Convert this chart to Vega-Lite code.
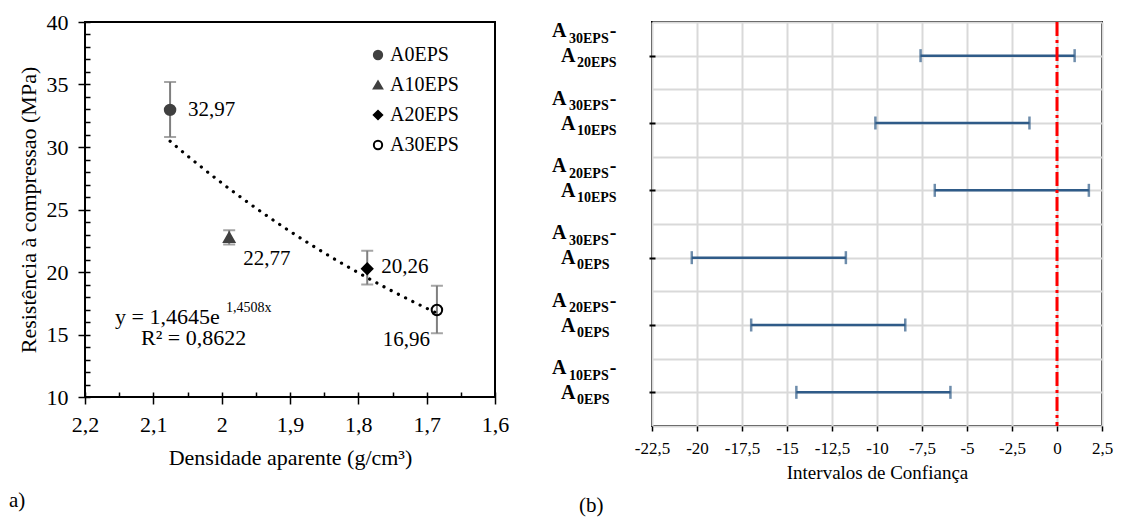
{
  "$schema": "https://vega.github.io/schema/vega-lite/v6.json",
  "background": "white",
  "padding": {"left": 8, "top": 10, "right": 0, "bottom": 0},
  "spacing": 40,
  "config": {
    "font": "Liberation Serif",
    "view": {"stroke": "black", "strokeWidth": 2},
    "axis": {"labelFont": "Liberation Serif", "titleFont": "Liberation Serif", "labelColor": "black", "titleColor": "black", "tickColor": "black", "domain": false, "titleFontWeight": "normal", "labelOverlap": false, "labelFlush": false},
    "title": {"font": "Liberation Serif", "fontWeight": "normal", "color": "black"}
  },
  "hconcat": [
    {
      "width": 410,
      "height": 375,
      "title": {"text": "a)", "orient": "bottom", "anchor": "start", "frame": "bounds", "fontSize": 21, "offset": 22, "dx": -8},
      "data": {"values": [
        {"serie": "A0EPS", "dens": 2.0755, "res": 32.97, "lo": 30.8, "hi": 35.2, "lab": "32,97"},
        {"serie": "A10EPS", "dens": 1.989, "res": 22.77, "lo": 22.2, "hi": 23.34, "lab": "22,77"},
        {"serie": "A20EPS", "dens": 1.787, "res": 20.26, "lo": 19.0, "hi": 21.7, "lab": "20,26"},
        {"serie": "A30EPS", "dens": 1.685, "res": 16.96, "lo": 15.1, "hi": 18.9, "lab": "16,96"}
      ]},
      "resolve": {"axis": {"x": "independent", "y": "independent"}},
      "layer": [
        {
          "mark": {"type": "rule", "color": "#7f7f7f", "strokeWidth": 2},
          "encoding": {
            "x": {"field": "dens", "type": "quantitative", "scale": {"domain": [1.6, 2.2], "reverse": true, "nice": false, "zero": false},
              "axis": {"orient": "bottom", "values": [1.6, 1.7, 1.8, 1.9, 2.0, 2.1, 2.2], "tickSize": 7, "tickWidth": 1.5, "labelFontSize": 22, "labelPadding": 10, "labelExpr": "replace(toString(datum.value), '.', ',')", "title": "Densidade aparente (g/cm³)", "titleFontSize": 22, "titlePadding": 12, "grid": false}},
            "y": {"field": "lo", "type": "quantitative", "scale": {"domain": [10, 40], "nice": false, "zero": false},
              "axis": {"orient": "left", "values": [10, 15, 20, 25, 30, 35, 40], "tickSize": 7, "tickWidth": 1.5, "labelFontSize": 22, "labelPadding": 10, "title": "Resistência à compressao (MPa)", "titleFontSize": 22, "titlePadding": 6, "grid": false}},
            "y2": {"field": "hi"}
          }
        },
        {
          "mark": {"type": "tick", "orient": "horizontal", "color": "#7f7f7f", "size": 12, "thickness": 2},
          "encoding": {
            "x": {"field": "dens", "type": "quantitative", "scale": {"domain": [1.6, 2.2], "reverse": true, "nice": false, "zero": false},
              "axis": {"orient": "bottom", "values": [1.6, 1.65, 1.7, 1.75, 1.8, 1.85, 1.9, 1.95, 2.0, 2.05, 2.1, 2.15, 2.2], "tickSize": -5, "tickWidth": 1.5, "labels": false, "title": null, "grid": false}},
            "y": {"field": "hi", "type": "quantitative", "scale": {"domain": [10, 40], "nice": false, "zero": false},
              "axis": {"orient": "left", "values": [10, 11, 12, 13, 14, 15, 16, 17, 18, 19, 20, 21, 22, 23, 24, 25, 26, 27, 28, 29, 30, 31, 32, 33, 34, 35, 36, 37, 38, 39, 40], "tickSize": -5, "tickWidth": 1.5, "labels": false, "title": null, "grid": false}}
          }
        },
        {
          "mark": {"type": "tick", "orient": "horizontal", "color": "#7f7f7f", "size": 12, "thickness": 2},
          "encoding": {
            "x": {"field": "dens", "type": "quantitative", "axis": null},
            "y": {"field": "lo", "type": "quantitative", "axis": null}
          }
        },
        {
          "mark": {"type": "point", "size": 110, "strokeWidth": 2, "opacity": 1},
          "encoding": {
            "x": {"field": "dens", "type": "quantitative", "axis": null},
            "y": {"field": "res", "type": "quantitative", "axis": null},
            "shape": {"field": "serie", "type": "nominal", "scale": {"domain": ["A0EPS", "A10EPS", "A20EPS", "A30EPS"], "range": ["circle", "triangle-up", "diamond", "circle"]},
              "legend": {"orient": "none", "legendX": 283, "legendY": 23, "title": null, "padding": 0, "labelFontSize": 20, "labelFont": "Liberation Serif", "labelColor": "black", "symbolSize": 70, "symbolStrokeWidth": 2, "rowPadding": 10, "labelOffset": 2}},
            "fill": {"field": "serie", "type": "nominal", "scale": {"domain": ["A0EPS", "A10EPS", "A20EPS", "A30EPS"], "range": ["#404040", "#404040", "#000000", "rgba(0,0,0,0)"]}},
            "stroke": {"field": "serie", "type": "nominal", "scale": {"domain": ["A0EPS", "A10EPS", "A20EPS", "A30EPS"], "range": ["#404040", "#404040", "#000000", "#000000"]}}
          }
        },
        {
          "transform": [{"regression": "res", "on": "dens", "method": "exp", "extent": [1.685, 2.0755]}],
          "mark": {"type": "line", "color": "black", "strokeWidth": 3.2, "strokeDash": [0.1, 8], "strokeCap": "round"},
          "encoding": {
            "x": {"field": "dens", "type": "quantitative", "axis": null},
            "y": {"field": "res", "type": "quantitative", "axis": null}
          }
        },
        {
          "transform": [{"filter": "datum.serie == 'A0EPS'"}],
          "mark": {"type": "text", "align": "left", "baseline": "middle", "dx": 18, "dy": 0, "fontSize": 21, "font": "Liberation Serif", "color": "black"},
          "encoding": {"x": {"field": "dens", "type": "quantitative", "axis": null}, "y": {"field": "res", "type": "quantitative", "axis": null}, "text": {"field": "lab"}}
        },
        {
          "transform": [{"filter": "datum.serie == 'A10EPS'"}],
          "mark": {"type": "text", "align": "left", "baseline": "middle", "dx": 14, "dy": 22, "fontSize": 21, "font": "Liberation Serif", "color": "black"},
          "encoding": {"x": {"field": "dens", "type": "quantitative", "axis": null}, "y": {"field": "res", "type": "quantitative", "axis": null}, "text": {"field": "lab"}}
        },
        {
          "transform": [{"filter": "datum.serie == 'A20EPS'"}],
          "mark": {"type": "text", "align": "left", "baseline": "middle", "dx": 14, "dy": -2, "fontSize": 21, "font": "Liberation Serif", "color": "black"},
          "encoding": {"x": {"field": "dens", "type": "quantitative", "axis": null}, "y": {"field": "res", "type": "quantitative", "axis": null}, "text": {"field": "lab"}}
        },
        {
          "transform": [{"filter": "datum.serie == 'A30EPS'"}],
          "mark": {"type": "text", "align": "right", "baseline": "middle", "dx": -7, "dy": 30, "fontSize": 21, "font": "Liberation Serif", "color": "black"},
          "encoding": {"x": {"field": "dens", "type": "quantitative", "axis": null}, "y": {"field": "res", "type": "quantitative", "axis": null}, "text": {"field": "lab"}}
        },
        {
          "data": {"values": [{}]},
          "mark": {"type": "text", "align": "left", "baseline": "alphabetic", "fontSize": 22, "font": "Liberation Serif", "color": "black", "text": "y = 1,4645e"},
          "encoding": {"x": {"datum": 2.156, "type": "quantitative", "axis": null}, "y": {"datum": 15.84, "type": "quantitative", "axis": null}}
        },
        {
          "data": {"values": [{}]},
          "mark": {"type": "text", "align": "left", "baseline": "alphabetic", "fontSize": 14, "font": "Liberation Serif", "color": "black", "text": "1,4508x"},
          "encoding": {"x": {"datum": 1.9936, "type": "quantitative", "axis": null}, "y": {"datum": 16.8, "type": "quantitative", "axis": null}}
        },
        {
          "data": {"values": [{}]},
          "mark": {"type": "text", "align": "left", "baseline": "alphabetic", "fontSize": 22, "font": "Liberation Serif", "color": "black", "text": "R² = 0,8622"},
          "encoding": {"x": {"datum": 2.118, "type": "quantitative", "axis": null}, "y": {"datum": 14.16, "type": "quantitative", "axis": null}}
        }
      ]
    },
    {
      "width": 450,
      "height": 404,
      "title": {"text": "(b)", "orient": "bottom", "anchor": "start", "frame": "bounds", "fontSize": 21, "offset": 13, "dx": 27},
      "data": {"values": [
        {"r": 1, "s1": "30EPS", "s2": "20EPS", "lo": -7.58, "hi": 0.98},
        {"r": 2, "s1": "30EPS", "s2": "10EPS", "lo": -10.09, "hi": -1.53},
        {"r": 3, "s1": "20EPS", "s2": "10EPS", "lo": -6.79, "hi": 1.77},
        {"r": 4, "s1": "30EPS", "s2": "0EPS", "lo": -20.29, "hi": -11.73},
        {"r": 5, "s1": "20EPS", "s2": "0EPS", "lo": -16.99, "hi": -8.43},
        {"r": 6, "s1": "10EPS", "s2": "0EPS", "lo": -14.48, "hi": -5.92}
      ]},
      "resolve": {"axis": {"x": "independent", "y": "independent"}},
      "layer": [
        {
          "mark": {"type": "rule", "color": "#2f5b88", "strokeWidth": 2.5},
          "encoding": {
            "x": {"field": "lo", "type": "quantitative", "scale": {"domain": [-22.5, 2.5], "nice": false, "zero": false},
              "axis": {"orient": "bottom", "values": [-22.5, -20, -17.5, -15, -12.5, -10, -7.5, -5, -2.5, 0, 2.5], "grid": true, "gridColor": "#d9d9d9", "gridWidth": 2, "tickSize": 5, "tickWidth": 1.5, "labelFontSize": 17, "labelPadding": 9, "labelExpr": "replace(toString(datum.value), '.', ',')", "title": "Intervalos de Confiança", "titleFontSize": 19, "titlePadding": 7}},
            "x2": {"field": "hi"},
            "y": {"field": "r", "type": "quantitative", "scale": {"domain": [0.5, 6.5], "reverse": true, "nice": false, "zero": false},
              "axis": {"orient": "left", "values": [0.5, 1, 1.5, 2, 2.5, 3, 3.5, 4, 4.5, 5, 5.5, 6, 6.5], "grid": true, "gridColor": "#d9d9d9", "gridWidth": 2, "ticks": false, "labels": false, "title": null}}
          }
        },
        {
          "mark": {"type": "tick", "orient": "vertical", "color": "#2f5b88", "size": 13, "thickness": 2.5},
          "encoding": {
            "x": {"field": "lo", "type": "quantitative", "scale": {"domain": [-22.5, 2.5], "nice": false, "zero": false}, "axis": null},
            "y": {"field": "r", "type": "quantitative", "scale": {"domain": [0.5, 6.5], "reverse": true, "nice": false, "zero": false},
              "axis": {"orient": "left", "values": [1, 2, 3, 4, 5, 6], "grid": false, "ticks": true, "tickSize": 6, "tickWidth": 2, "offset": -3, "labels": false, "title": null}}
          }
        },
        {
          "mark": {"type": "tick", "orient": "vertical", "color": "#2f5b88", "size": 13, "thickness": 2.5},
          "encoding": {
            "x": {"field": "hi", "type": "quantitative", "axis": null},
            "y": {"field": "r", "type": "quantitative", "axis": null}
          }
        },
        {
          "data": {"values": [{}]},
          "mark": {"type": "rule", "color": "#ff0000", "strokeWidth": 3, "strokeDash": [14, 4, 3, 4]},
          "encoding": {"x": {"datum": 0, "type": "quantitative", "axis": null}}
        },
        {
          "mark": {"type": "text", "align": "left", "baseline": "alphabetic", "dy": -18.4, "fontSize": 20, "fontWeight": "bold", "font": "Liberation Serif", "color": "black", "text": "A"},
          "encoding": {"x": {"datum": -28.06, "type": "quantitative", "axis": null}, "y": {"field": "r", "type": "quantitative", "axis": null}}
        },
        {
          "mark": {"type": "text", "align": "left", "baseline": "alphabetic", "dy": -12.7, "fontSize": 14, "fontWeight": "bold", "font": "Liberation Serif", "color": "black"},
          "encoding": {"x": {"datum": -27.11, "type": "quantitative", "axis": null}, "y": {"field": "r", "type": "quantitative", "axis": null}, "text": {"field": "s1"}}
        },
        {
          "mark": {"type": "text", "align": "left", "baseline": "alphabetic", "dy": -18.4, "fontSize": 20, "fontWeight": "bold", "font": "Liberation Serif", "color": "black", "text": "-"},
          "encoding": {"x": {"datum": -24.85, "type": "quantitative", "axis": null}, "y": {"field": "r", "type": "quantitative", "axis": null}}
        },
        {
          "mark": {"type": "text", "align": "left", "baseline": "alphabetic", "dy": 6.6, "fontSize": 20, "fontWeight": "bold", "font": "Liberation Serif", "color": "black", "text": "A"},
          "encoding": {"x": {"datum": -27.56, "type": "quantitative", "axis": null}, "y": {"field": "r", "type": "quantitative", "axis": null}}
        },
        {
          "mark": {"type": "text", "align": "left", "baseline": "alphabetic", "dy": 11.6, "fontSize": 14, "fontWeight": "bold", "font": "Liberation Serif", "color": "black"},
          "encoding": {"x": {"datum": -26.67, "type": "quantitative", "axis": null}, "y": {"field": "r", "type": "quantitative", "axis": null}, "text": {"field": "s2"}}
        }
      ]
    }
  ]
}
